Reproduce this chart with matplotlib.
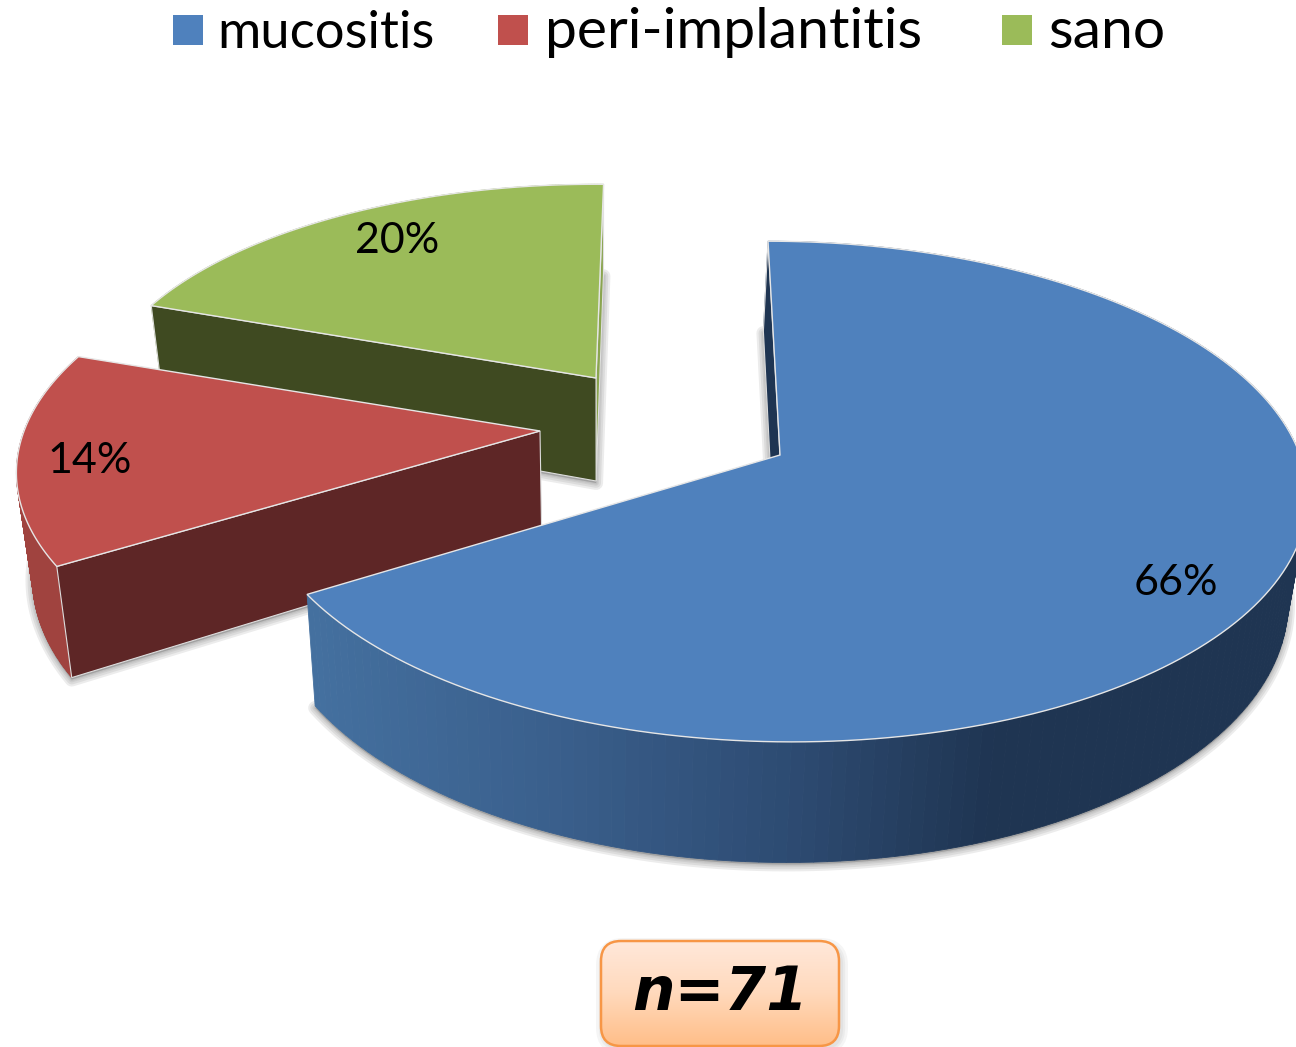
import numpy as np
import matplotlib
matplotlib.use("Agg")
import matplotlib.pyplot as plt
from matplotlib.patches import Polygon, FancyBboxPatch, Rectangle
from matplotlib.colors import to_rgb, LinearSegmentedColormap

# data
categories = ["mucositis", "peri-implantitis", "sano"]
counts = [47, 10, 14]
total_label = "n=71"

# style
top_colors = ["#4F81BD", "#C0504D", "#9BBB59"]
inner_colors = ["#1F3552", "#5E2626", "#3F4A21"]
end_colors = ["#1F3552", "#A0433F", "#8AA54F"]
apexes = [(780, 455), (540, 431), (596, 378)]
radii = [(520, 245), (518, 240), (497, 222)]
skews = [12, 0, 0]
shears = [0, -6, 0]
rotations = [0.0, 1.5, 1.0]
label_r = [0.85, 0.88, 0.82]
label_shift = [(-20, 20), (9, 7), (11, 0)]
legend_sq_x = [173, 498, 1002]
legend_tx_x = [217, 545, 1048]
legend_size = [37.8, 41, 41]
P = 0.146
DEPTH = 103
START = 0.0

fig = plt.figure(figsize=(12.96, 10.47), dpi=100)
ax = fig.add_axes([0, 0, 1, 1])
ax.set_xlim(0, 1296)
ax.set_ylim(1047, 0)
ax.axis("off")


def project(theta_deg, i, r=1.0):
    t = np.radians(theta_deg + rotations[i])
    X, Y = r * np.sin(t), r * np.cos(t)
    den = 1 + P * Y
    return (apexes[i][0] + radii[i][0] * X / den - skews[i] * Y,
            apexes[i][1] - radii[i][1] * Y / den + shears[i] * X, 1 / den)


def drop(x, y, s):
    return x + (600 - x) * 0.0275, y + DEPTH * s


def rim_color(x):
    xs = [316, 560, 800, 1000, 1296]
    cols = ["#44709F", "#3A5F8C", "#2D4B72", "#1F3552", "#1F3552"]
    return tuple(np.interp(x, xs, [to_rgb(c)[k] for c in cols]) for k in range(3))


fr = np.array(counts) / sum(counts)
edges = START + 360 * np.concatenate([[0], np.cumsum(fr)])

for i in [2, 1, 0]:
    t0, t1 = edges[i], edges[i + 1]
    th = np.linspace(t0, t1, 181)
    x, y, s = project(th, i)
    xb, yb = drop(x, y, s)
    ax0, ay0 = apexes[i]
    axb, ayb = drop(ax0, ay0, 1.0)
    z = 3 + 3 * (2 - i)

    # soft shadow of the base
    base = np.column_stack([np.r_[axb, xb], np.r_[ayb, yb] + 2])
    for lw in [10, 7, 4, 2]:
        ax.add_patch(Polygon(base, closed=True, fc="#808080", ec="#808080", lw=lw,
                             alpha=0.15, joinstyle="round", zorder=z - 1))

    # outer rim
    for j in range(len(th) - 1):
        q = [(x[j], y[j]), (x[j + 1], y[j + 1]), (xb[j + 1], yb[j + 1]), (xb[j], yb[j])]
        c = rim_color(x[j]) if i == 0 else to_rgb(end_colors[i])
        ax.add_patch(Polygon(q, closed=True, fc=c, ec=c, lw=0.6, zorder=z))

    # the narrow far cut face of the green slice
    if i == 2:
        ax.add_patch(Polygon([(x[-1], y[-1]), (ax0, ay0), (axb, ayb), (xb[-1], yb[-1])], closed=True,
                             fc=end_colors[2], ec="#E0E0E0", lw=0.8, zorder=z))
    # front cut face
    ax.add_patch(Polygon([(x[0], y[0]), (ax0, ay0), (axb, ayb), (xb[0], yb[0])], closed=True,
                         fc=inner_colors[i], ec="#DDDDDD", lw=0.8, zorder=z))
    # top face
    ax.add_patch(Polygon(np.column_stack([np.r_[ax0, x], np.r_[ay0, y]]), closed=True,
                         fc=top_colors[i], ec="#E6E6E6", lw=1.0, zorder=z + 1))

    # percentage label
    mid = (t0 + t1) / 2
    lx, ly, _ = project(mid, i, label_r[i])
    ax.text(lx + label_shift[i][0], ly + label_shift[i][1], f"{round(100 * fr[i])}%",
            fontsize=31, family="Lato", ha="center", va="center", color="black", zorder=20)

# legend
for i, name in enumerate(categories):
    ax.add_patch(Rectangle((legend_sq_x[i], 15), 30, 30, fc=top_colors[i], ec="none", zorder=20))
    ax.text(legend_tx_x[i], 48, name, fontsize=legend_size[i], family="Lato", ha="left", va="baseline",
            color="black", zorder=20)

# n badge
box = FancyBboxPatch((601, 941), 238, 105, boxstyle="round,pad=0,rounding_size=20",
                     fc="none", ec="#F79646", lw=1.8, zorder=22)
ax.add_patch(box)
for lw in [10, 6, 3]:
    ax.add_patch(FancyBboxPatch((603, 945), 238, 103, boxstyle="round,pad=0,rounding_size=20",
                                fc="none", ec="#808080", lw=lw, alpha=0.08, zorder=19))
cmap = LinearSegmentedColormap.from_list("badge", ["#FFE8DA", "#FFD9BC", "#FFBE88"])
im = ax.imshow(np.linspace(0, 1, 128)[:, None], extent=(601, 839, 1046, 941), cmap=cmap,
               aspect="auto", zorder=21)
im.set_clip_path(box)
ax.set_xlim(0, 1296)
ax.set_ylim(1047, 0)
ax.text(720, 1010, total_label, fontsize=43, family="DejaVu Sans", weight="bold", style="oblique",
        ha="center", va="baseline", color="black", zorder=23)

fig.savefig("out.png", dpi=100, facecolor="white")
